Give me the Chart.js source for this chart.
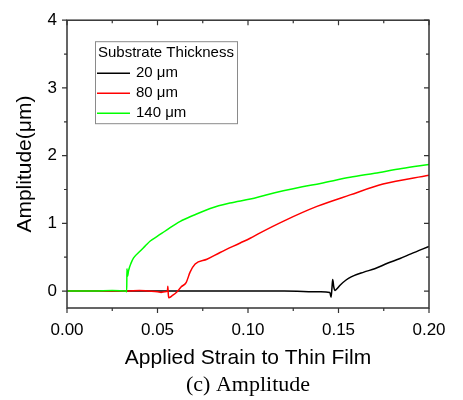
<!DOCTYPE html>
<html>
<head>
<meta charset="utf-8">
<script src="https://cdn.jsdelivr.net/npm/chart.js@4.4.1/dist/chart.umd.min.js"></script>
<style>
  body { margin: 0; background: #fff; }
</style>
</head>
<body>
<canvas id="myChart" width="463" height="400"></canvas>
<script>
// data
var labels = ['20 \u03bcm', '80 \u03bcm', '140 \u03bcm']
var colors = ['#000000', '#ff0000', '#00ff00']

var strain20 = [0, 0.03, 0.06, 0.09, 0.12, 0.14, 0.1452, 0.1459, 0.1464, 0.1468, 0.1474, 0.1481, 0.149, 0.151, 0.154, 0.157, 0.164, 0.17, 0.177, 0.184, 0.19, 0.2]
var amp20 = [0, 0, 0, 0, 0, -0.01, -0.02, -0.09, 0.05, 0.17, 0.06, 0.01, 0.03, 0.09, 0.16, 0.21, 0.28, 0.33, 0.41, 0.48, 0.55, 0.66]

var strain80 = [0, 0.02, 0.033, 0.04, 0.045, 0.05, 0.052, 0.054, 0.0555, 0.0557, 0.0559, 0.0562, 0.058, 0.0607, 0.063, 0.0659, 0.068, 0.0708, 0.0773, 0.0846, 0.0957, 0.1012, 0.1067, 0.1194, 0.1381, 0.1564, 0.1746, 0.2]
var amp80 = [0, 0, 0, 0.01, 0, -0.01, -0.02, -0.01, 0, 0.07, -0.02, -0.1, -0.07, -0.015, 0.06, 0.13, 0.28, 0.4, 0.47, 0.57, 0.71, 0.78, 0.86, 1.03, 1.25, 1.42, 1.58, 1.71]

var strain140 = [0, 0.015, 0.025, 0.0325, 0.033, 0.0331, 0.0335, 0.034, 0.0355, 0.0368, 0.04, 0.043, 0.046, 0.05, 0.055, 0.0626, 0.07, 0.0791, 0.09, 0.1013, 0.11, 0.1195, 0.13, 0.14, 0.1564, 0.17, 0.185, 0.2]
var amp140 = [0, 0, 0.01, 0, -0.01, 0.33, 0.22, 0.3, 0.42, 0.49, 0.58, 0.66, 0.74, 0.81, 0.9, 1.03, 1.12, 1.22, 1.3, 1.36, 1.42, 1.48, 1.54, 1.59, 1.68, 1.74, 1.81, 1.87]

var xTicks = [0, 0.05, 0.1, 0.15, 0.2]
var xMinor = [0.025, 0.075, 0.125, 0.175]
var yTicks = [0, 1, 2, 3, 4]
var yMinor = [0.5, 1.5, 2.5, 3.5]

var sans = 'Liberation Sans, Arial, sans-serif'

function pts(xs, ys) {
    return xs.map(function (x, i) { return { x: x, y: ys[i] } })
}

// box around the plot with ticks on all four sides (Origin style)
var frame = {
    id: 'frame',
    afterDraw: function (chart) {
        var c = chart.ctx, a = chart.chartArea
        var sx = chart.scales.x, sy = chart.scales.y
        c.save()
        c.strokeStyle = '#333'
        c.lineWidth = 1.5
        c.strokeRect(a.left, a.top, a.right - a.left, a.bottom - a.top)
        c.lineWidth = 1.2
        c.beginPath()
        function xt(v, len) {
            var p = sx.getPixelForValue(v)
            c.moveTo(p, a.bottom); c.lineTo(p, a.bottom + len)
            c.moveTo(p, a.top); c.lineTo(p, a.top + len)
        }
        function yt(v, len) {
            var p = sy.getPixelForValue(v)
            c.moveTo(a.left, p); c.lineTo(a.left - len, p)
            c.moveTo(a.right, p); c.lineTo(a.right - len, p)
        }
        xTicks.forEach(function (v) { xt(v, 5) })
        xMinor.forEach(function (v) { xt(v, 3) })
        yTicks.forEach(function (v) { yt(v, 5) })
        yMinor.forEach(function (v) { yt(v, 3) })
        c.stroke()

        // legend box
        var lx = a.left + 28, ly = a.top + 21
        c.strokeStyle = '#8a8a8a'
        c.lineWidth = 1
        c.strokeRect(lx + 0.5, ly + 0.5, 142, 82)
        c.fillStyle = '#000'
        c.font = '15px ' + sans
        c.textBaseline = 'middle'
        c.fillText('Substrate Thickness', lx + 3, ly + 12)
        chart.data.datasets.forEach(function (ds, i) {
            var yy = ly + 32 + i * 20
            c.strokeStyle = ds.borderColor
            c.lineWidth = 1.5
            c.beginPath()
            c.moveTo(lx + 2, yy); c.lineTo(lx + 35, yy)
            c.stroke()
            c.fillText(ds.label, lx + 41, yy)
        })

        // caption under the figure
        c.font = '22px Liberation Serif, Times New Roman, serif'
        c.textAlign = 'center'
        c.fillText('(c) Amplitude', (a.left + a.right) / 2, 385)
        c.restore()
    }
}

diagram()

function diagram() {
    const ctx = document.getElementById('myChart')
    var series = [pts(strain20, amp20), pts(strain80, amp80), pts(strain140, amp140)]

    new Chart(ctx, {
        type: 'line',
        data: {
            datasets: series.map(function (d, i) {
                return {
                    label: labels[i],
                    data: d,
                    borderColor: colors[i],
                    borderWidth: 1.5,
                    pointRadius: 0,
                    cubicInterpolationMode: 'monotone',
                    order: 3 - i
                }
            })
        },
        options: {
            responsive: false,
            animation: false,
            devicePixelRatio: 1,
            layout: { padding: { top: 16, right: 34, bottom: 28, left: 0 } },
            plugins: { legend: { display: false }, tooltip: { enabled: false } },
            scales: {
                x: {
                    type: 'linear',
                    min: 0,
                    max: 0.2,
                    afterBuildTicks: function (s) { s.ticks = xTicks.map(function (v) { return { value: v } }) },
                    afterFit: function (s) { s.height = 64 },
                    grid: { display: false, drawTicks: false },
                    border: { display: false },
                    ticks: {
                        padding: 12,
                        color: '#000',
                        font: { family: sans, size: 17 },
                        callback: function (v) { return v.toFixed(2) }
                    },
                    title: {
                        display: true,
                        text: 'Applied Strain to Thin Film',
                        color: '#000',
                        font: { family: sans, size: 21 },
                        padding: { top: 0, bottom: 1 }
                    }
                },
                y: {
                    min: -0.25,
                    max: 4,
                    afterBuildTicks: function (s) { s.ticks = yTicks.map(function (v) { return { value: v } }) },
                    afterFit: function (s) { s.width = 67 },
                    grid: { display: false, drawTicks: false },
                    border: { display: false },
                    ticks: {
                        padding: 10,
                        color: '#000',
                        font: { family: sans, size: 17 }
                    },
                    title: {
                        display: true,
                        text: 'Amplitude(\u03bcm)',
                        color: '#000',
                        font: { family: sans, size: 21 },
                        padding: { top: 13, bottom: 0 }
                    }
                }
            }
        },
        plugins: [frame]
    })
}
</script>
</body>
</html>
